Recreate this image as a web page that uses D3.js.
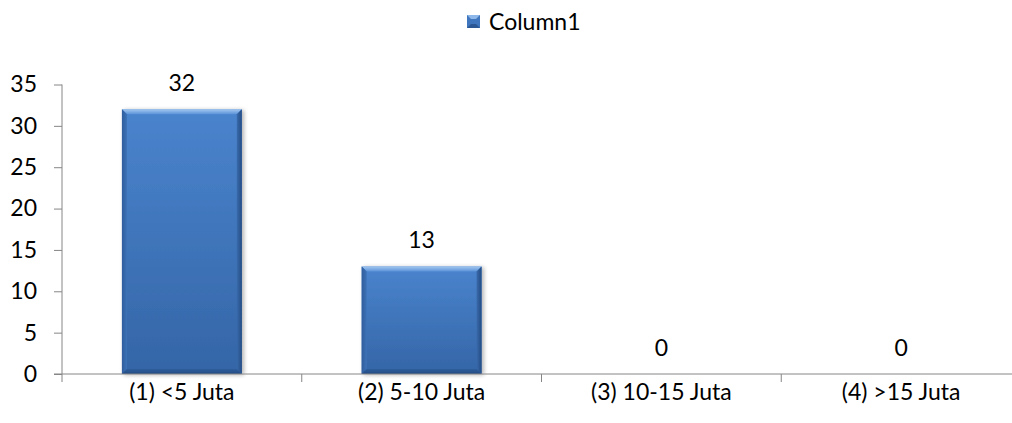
<!DOCTYPE html>
<html>
<head>
<meta charset="utf-8">
<script src="https://cdn.jsdelivr.net/npm/d3@7"></script>
<style>
  html, body { margin: 0; padding: 0; background: #fff; }
  svg { display: block; }
  text { font-family: Lato, "Open Sans", sans-serif; fill: #000; }
</style>
</head>
<body>
<svg id="chart" width="1012" height="423"></svg>
<script>
// Income groups and number of respondents in each
const categories = ["(1) <5 Juta", "(2) 5-10 Juta", "(3) 10-15 Juta", "(4) >15 Juta"];
const values = [32, 13, 0, 0];
const yTicks = [0, 5, 10, 15, 20, 25, 30, 35];
const seriesName = "Column1";

const FS = 23;
const svg = d3.select("#chart");

const x = d3.scaleBand().domain(categories).range([62, 1021]).paddingInner(0.5).paddingOuter(0.25);
const y = d3.scaleLinear().domain([0, 35]).range([374, 84.5]);

const defs = svg.append("defs");
const body = defs.append("linearGradient").attr("id", "barBody").attr("x1", 0).attr("y1", 0).attr("x2", 0).attr("y2", 1);
body.append("stop").attr("offset", "0%").attr("stop-color", "#4a84cd");
body.append("stop").attr("offset", "100%").attr("stop-color", "#3465a7");
const sideL = defs.append("linearGradient").attr("id", "sideL").attr("x1", 0).attr("y1", 0).attr("x2", 1).attr("y2", 0);
sideL.append("stop").attr("offset", "0%").attr("stop-color", "#2f5d9c");
sideL.append("stop").attr("offset", "100%").attr("stop-color", "#3d72b7");
const sideR = defs.append("linearGradient").attr("id", "sideR").attr("x1", 0).attr("y1", 0).attr("x2", 1).attr("y2", 0);
sideR.append("stop").attr("offset", "0%").attr("stop-color", "#386aab");
sideR.append("stop").attr("offset", "100%").attr("stop-color", "#244c84");
const topG = defs.append("linearGradient").attr("id", "topG").attr("x1", 0).attr("y1", 0).attr("x2", 0).attr("y2", 1);
topG.append("stop").attr("offset", "0%").attr("stop-color", "#a3c7f0");
topG.append("stop").attr("offset", "100%").attr("stop-color", "#5a92d8");
const botG = defs.append("linearGradient").attr("id", "botG").attr("x1", 0).attr("y1", 0).attr("x2", 0).attr("y2", 1);
botG.append("stop").attr("offset", "0%").attr("stop-color", "#2e5d9c");
botG.append("stop").attr("offset", "100%").attr("stop-color", "#234b82");
const shadow = defs.append("filter").attr("id", "shadow").attr("x", "-10%").attr("y", "-10%").attr("width", "130%").attr("height", "120%");
shadow.append("feGaussianBlur").attr("in", "SourceAlpha").attr("stdDeviation", 2);
shadow.append("feOffset").attr("dx", 2).attr("dy", 1).attr("result", "b");
shadow.append("feComponentTransfer").append("feFuncA").attr("type", "linear").attr("slope", 0.3);
const merge = shadow.append("feMerge");
merge.append("feMergeNode");
merge.append("feMergeNode").attr("in", "SourceGraphic");

// Bars with a beveled edge
const bev = 5;
const bars = svg.append("g").selectAll("g").data(categories.map((c, i) => ({ c, v: values[i] })).filter(d => d.v > 0))
  .join("g").attr("filter", "url(#shadow)");
bars.each(function (d) {
  const g = d3.select(this);
  const x0 = x(d.c), x1 = x0 + x.bandwidth(), y0 = y(d.v), y1 = y(0);
  g.append("rect").attr("x", x0).attr("y", y0).attr("width", x1 - x0).attr("height", y1 - y0).attr("fill", "url(#barBody)");
  g.append("polygon").attr("points", [[x0, y0], [x1, y0], [x1 - bev, y0 + bev], [x0 + bev, y0 + bev]].join(" ")).attr("fill", "url(#topG)");
  g.append("polygon").attr("points", [[x0, y0], [x0 + bev, y0 + bev], [x0 + bev, y1 - bev], [x0, y1]].join(" ")).attr("fill", "url(#sideL)");
  g.append("polygon").attr("points", [[x1, y0], [x1 - bev, y0 + bev], [x1 - bev, y1 - bev], [x1, y1]].join(" ")).attr("fill", "url(#sideR)");
  g.append("polygon").attr("points", [[x0, y1], [x0 + bev, y1 - bev], [x1 - bev, y1 - bev], [x1, y1]].join(" ")).attr("fill", "url(#botG)");
});

// Value labels
svg.append("g").selectAll("text").data(values).join("text")
  .attr("x", (d, i) => x(categories[i]) + x.bandwidth() / 2)
  .attr("y", d => y(d) - 18)
  .attr("text-anchor", "middle").attr("font-size", FS)
  .text(d => d);

// Y axis
const yAxis = svg.append("g").attr("transform", "translate(62,0)")
  .call(d3.axisLeft(y).tickValues(yTicks).tickSize(8).tickPadding(17));
yAxis.select(".domain").attr("stroke", "#868686").attr("d", `M0,${y(35)}V${y(0)}`);
yAxis.selectAll(".tick line").attr("stroke", "#868686");
yAxis.selectAll(".tick text").attr("font-size", FS).attr("font-family", "Lato, 'Open Sans', sans-serif").attr("fill", "#000");

// X axis
const xAxis = svg.append("g").attr("transform", `translate(0,${y(0)})`);
xAxis.append("line").attr("x1", 54).attr("x2", 1021).attr("y1", 0).attr("y2", 0).attr("stroke", "#868686");
const bounds = [62].concat(categories.map(c => x(c) + x.bandwidth() + x.step() * x.paddingInner() / 2));
xAxis.selectAll("line.tk").data(bounds).join("line").attr("class", "tk")
  .attr("x1", d => d).attr("x2", d => d).attr("y1", 0).attr("y2", 8).attr("stroke", "#868686");
xAxis.selectAll("text").data(categories).join("text")
  .attr("x", d => x(d) + x.bandwidth() / 2).attr("y", 26)
  .attr("text-anchor", "middle").attr("font-size", FS)
  .text(d => d);

// Legend
const lg = svg.append("g");
lg.append("rect").attr("x", 467).attr("y", 15).attr("width", 13).attr("height", 13).attr("fill", "#3f76bd");
lg.append("polygon").attr("points", "467,15 480,15 476,19 471,19").attr("fill", "#8fb8ea");
lg.append("polygon").attr("points", "467,28 480,28 476,24 471,24").attr("fill", "#2b5894");
lg.append("text").attr("x", 489).attr("y", 30).attr("font-size", FS).text(seriesName);
</script>
</body>
</html>
